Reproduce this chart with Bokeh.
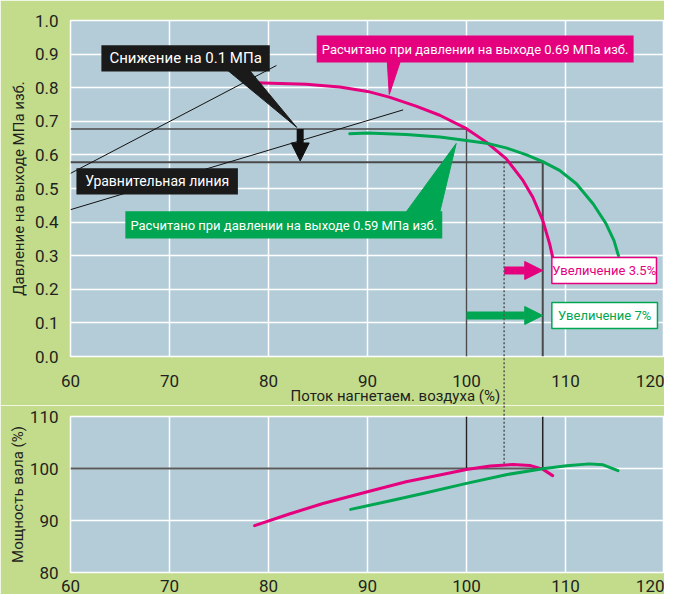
from bokeh.plotting import figure
from bokeh.layouts import column
from bokeh.models import FixedTicker, PrintfTickFormatter, Arrow, NormalHead, Range1d
from bokeh.core.properties import value
from bokeh.embed import file_html
from bokeh.resources import INLINE

# ---------------- data ----------------
flow_069 = [78.6, 83.8, 87.2, 90.0, 92.2, 94.9, 97.3, 100.0, 102.0, 104.0, 105.7, 106.7, 107.7, 108.4, 108.7]
pressure_069 = [0.815, 0.810, 0.802, 0.789, 0.772, 0.745, 0.718, 0.678, 0.638, 0.589, 0.524, 0.474, 0.405, 0.335, 0.296]

flow_059 = [88.2, 90.0, 93.9, 97.3, 100.0, 102.0, 104.0, 106.0, 107.7, 109.4, 111.1, 112.8, 114.1, 114.9, 115.35]
pressure_059 = [0.663, 0.665, 0.661, 0.653, 0.643, 0.635, 0.621, 0.601, 0.580, 0.554, 0.514, 0.454, 0.395, 0.345, 0.300]

power_flow_069 = [78.6, 82.1, 85.5, 90.0, 93.9, 97.3, 100.0, 102.4, 104.7, 106.4, 107.7, 108.7]
power_069 = [89.0, 91.25, 93.27, 95.54, 97.44, 98.75, 99.82, 100.48, 100.77, 100.6, 99.88, 98.63]

power_flow_059 = [88.3, 92.2, 95.6, 100.0, 104.0, 107.7, 110.1, 112.4, 113.8, 115.3]
power_059 = [92.14, 93.75, 95.18, 97.14, 98.81, 99.94, 100.54, 100.89, 100.71, 99.58]

rated_flow = 100.0
flow_up_35 = 103.8
flow_up_7 = 107.7
pressure_high = 0.677
pressure_low = 0.578
rated_power = 100.0
power_peak_069 = 100.9

equal_line_a_x = [60.0, 80.8]
equal_line_a_y = [0.545, 0.866]
equal_line_b_x = [60.0, 93.6]
equal_line_b_y = [0.437, 0.734]

flow_ticks = [60, 70, 80, 90, 100, 110, 120]
pressure_ticks = [0.0, 0.1, 0.2, 0.3, 0.4, 0.5, 0.6, 0.7, 0.8, 0.9, 1.0]
power_ticks = [80, 90, 100, 110]

# ---------------- style ----------------
FONT = "Roboto"
BG = "#c2dc8c"
PLOT_BG = "#b4ccd8"
MAG = "#e5007e"
GRN = "#00a651"
INK = "#231f20"
REF = "#4a4a4a"


def style_axes(p):
    for ax in p.axis:
        ax.axis_line_color = None
        ax.major_tick_line_color = None
        ax.minor_tick_line_color = None
        ax.major_label_text_font = FONT
        ax.major_label_text_font_size = "17px"
        ax.major_label_text_color = INK
        ax.axis_label_text_font = FONT
        ax.axis_label_text_font_size = "15px"
        ax.axis_label_text_font_style = "normal"
        ax.axis_label_text_color = INK
    p.grid.grid_line_color = "white"
    p.grid.grid_line_width = 1.5


def callout_text(p, x, y, text, size, color):
    p.text(x=[x], y=[y], text=[text], text_font=value(FONT), text_font_size=size,
           text_color=color, text_align="center", text_baseline="middle")


# ---------------- top chart ----------------
top = figure(width=664, height=405, x_range=Range1d(60, 120), y_range=Range1d(0, 1.0),
             output_backend="svg", toolbar_location=None,
             min_border_left=70, min_border_right=0, min_border_top=20, min_border_bottom=49,
             background_fill_color=PLOT_BG, border_fill_color=BG,
             outline_line_color="white", outline_line_width=1.5)
top.xaxis.ticker = FixedTicker(ticks=flow_ticks)
top.yaxis.ticker = FixedTicker(ticks=pressure_ticks)
top.yaxis.formatter = PrintfTickFormatter(format="%.1f")
top.yaxis.axis_label = "Давление на выходе МПа изб."
style_axes(top)
top.xaxis.major_label_standoff = 12
top.yaxis.major_label_standoff = 6
top.yaxis.axis_label_standoff = 4

# reference lines
top.line([60, rated_flow, rated_flow], [pressure_high, pressure_high, 0], line_color=REF, line_width=1.5)
top.line([60, flow_up_7, flow_up_7], [pressure_low, pressure_low, 0], line_color=REF, line_width=2)
top.line(equal_line_a_x, equal_line_a_y, line_color="#111111", line_width=1)
top.line(equal_line_b_x, equal_line_b_y, line_color="#111111", line_width=1)

# curves
top.line(flow_069, pressure_069, line_color=MAG, line_width=3, line_join="round", line_cap="round")
top.line(flow_059, pressure_059, line_color=GRN, line_width=3, line_join="round", line_cap="round")

# dotted line crossing the gap (overlay level: not clipped to the frame)
top.line([flow_up_35, flow_up_35], [pressure_low, -0.3], line_color="#555555", line_width=1.5,
         line_dash="2 2", level="overlay")

# x-axis title (placed off-centre, as in the reference)
top.text(x=[93.0], y=[-0.119], text=["Поток нагнетаем. воздуха  (%)"], text_font=value(FONT),
         text_font_size="15px", text_color=INK, text_align="center", text_baseline="middle",
         level="overlay")

# black down arrow
top.add_layout(Arrow(x_start=83.2, y_start=pressure_high, x_end=83.2, y_end=pressure_low + 0.004,
                     end=NormalHead(size=18, fill_color="#111111", line_color="#111111"),
                     line_color="#111111", line_width=7))

# increase arrows
top.add_layout(Arrow(x_start=flow_up_35, y_start=0.256, x_end=flow_up_7, y_end=0.256,
                     end=NormalHead(size=18, fill_color=MAG, line_color=MAG),
                     line_color=MAG, line_width=8))
top.add_layout(Arrow(x_start=rated_flow, y_start=0.122, x_end=flow_up_7, y_end=0.122,
                     end=NormalHead(size=18, fill_color=GRN, line_color=GRN),
                     line_color=GRN, line_width=8))

# callout: drop by 0.1 MPa
top.patch([75.9, 78.1, 82.85], [0.851, 0.851, 0.682], fill_color="#1a1a1a", line_color="#1a1a1a")
top.quad(left=63.12, right=80.13, bottom=0.848, top=0.926, fill_color="#1a1a1a", line_color=None)
callout_text(top, 71.63, 0.887, "Снижение на 0.1 МПа", "15px", "white")

# callout: equalising line
top.quad(left=60.6, right=76.91, bottom=0.482, top=0.560, fill_color="#1a1a1a", line_color=None)
callout_text(top, 68.76, 0.521, "Уравнительная линия", "14px", "white")

# callout: 0.69 MPa
top.patch([92.0, 93.3, 92.2], [0.877, 0.877, 0.780], fill_color=MAG, line_color=MAG)
top.quad(left=84.87, right=116.88, bottom=0.875, top=0.955, fill_color=MAG, line_color=None)
callout_text(top, 100.87, 0.915, "Расчитано при давлении на выходе 0.69 МПа изб.", "13px", "white")

# callout: 0.59 MPa
top.patch([93.9, 97.3, 98.96], [0.430, 0.430, 0.634], fill_color=GRN, line_color=GRN)
top.quad(left=65.54, right=97.55, bottom=0.351, top=0.432, fill_color=GRN, line_color=None)
callout_text(top, 81.54, 0.391, "Расчитано при давлении на выходе 0.59 МПа изб.", "13px", "white")

# increase boxes
top.quad(left=108.62, right=119.19, bottom=0.217, top=0.295, fill_color="white",
         line_color=MAG, line_width=1.5)
callout_text(top, 113.91, 0.256, "Увеличение 3.5%", "13px", MAG)
top.quad(left=108.62, right=119.29, bottom=0.083, top=0.161, fill_color="white",
         line_color=GRN, line_width=1.5)
callout_text(top, 113.96, 0.122, "Увеличение 7%", "13px", GRN)

# ---------------- bottom chart ----------------
bot = figure(width=664, height=189, x_range=Range1d(60, 120), y_range=Range1d(80, 110),
             output_backend="svg", toolbar_location=None,
             min_border_left=70, min_border_right=0, min_border_top=11, min_border_bottom=21,
             background_fill_color=PLOT_BG, border_fill_color=BG,
             outline_line_color="white", outline_line_width=1.5)
bot.xaxis.ticker = FixedTicker(ticks=flow_ticks)
bot.yaxis.ticker = FixedTicker(ticks=power_ticks)
bot.yaxis.axis_label = "Мощность вала (%)"
style_axes(bot)
bot.xaxis.major_label_standoff = 1
bot.yaxis.major_label_standoff = 6
bot.yaxis.axis_label_standoff = 0

bot.line([60, flow_up_7], [rated_power, rated_power], line_color="#5a5a5a", line_width=2)
bot.line([rated_flow, rated_flow], [110, rated_power], line_color="#222222", line_width=1.5)
bot.line([flow_up_7, flow_up_7], [110, rated_power], line_color="#222222", line_width=1.5)
bot.line([flow_up_35, flow_up_35], [power_peak_069, 115], line_color="#555555", line_width=1.5,
         line_dash="2 2", level="overlay")
bot.line(power_flow_069, power_069, line_color=MAG, line_width=3, line_join="round", line_cap="round")
bot.line(power_flow_059, power_059, line_color=GRN, line_width=3, line_join="round", line_cap="round")

layout = column(top, bot, spacing=0)
open("out.html", "w").write(file_html(layout, INLINE))
